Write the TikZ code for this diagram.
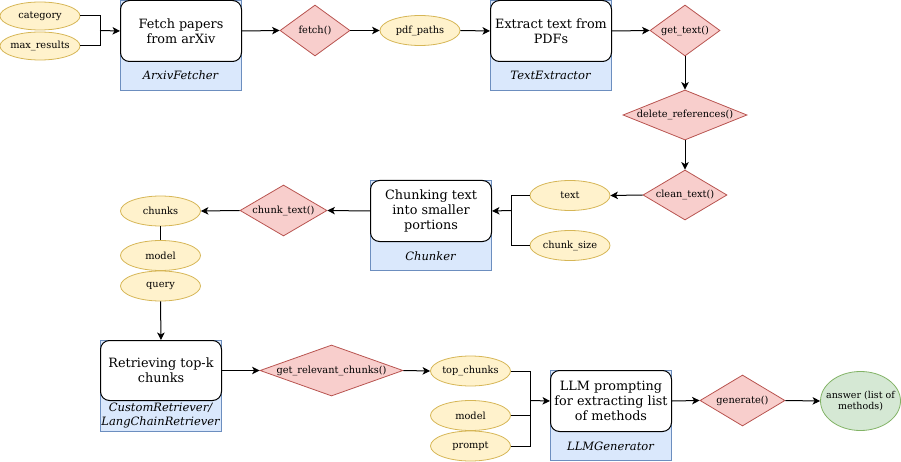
\documentclass[tikz,border=0pt]{standalone}
\usepackage{fontspec}
\setmainfont{DejaVu Serif}
\usetikzlibrary{shapes.geometric,arrows.meta}
\definecolor{yfill}{HTML}{FFF2CC}\definecolor{ydraw}{HTML}{D6B656}
\definecolor{rfill}{HTML}{F8CECC}\definecolor{rdraw}{HTML}{B85450}
\definecolor{bfill}{HTML}{DAE8FC}\definecolor{bdraw}{HTML}{6C8EBF}
\definecolor{gfill}{HTML}{D5E8D4}\definecolor{gdraw}{HTML}{82B366}
\tikzset{
  cont/.style={draw=bdraw, fill=bfill, line width=1pt, minimum width=121, minimum height=90, anchor=north west, inner sep=0},
  procbox/.style={draw=black, fill=white, line width=1pt, rounded corners=9, minimum width=121, minimum height=61, anchor=north west, inner sep=0, align=center, font=\fontsize{12.8}{15.2}\selectfont},
  cls/.style={font=\fontsize{11.5}{14}\selectfont\itshape, align=center, inner sep=0},
  param/.style={ellipse, draw=ydraw, fill=yfill, line width=0.8pt, minimum width=80, minimum height=30, inner sep=0, label={[font=\fontsize{9.8}{11}\selectfont, inner sep=0]center:#1}},
  method/.style={diamond, draw=rdraw, fill=rfill, line width=0.8pt, inner sep=0, label={[font=\fontsize{9.8}{11}\selectfont, inner sep=0]center:#1}},
  result/.style={ellipse, draw=gdraw, fill=gfill, line width=0.8pt, minimum width=80, minimum height=59, inner sep=0, label={[font=\fontsize{9.5}{11.5}\selectfont, inner sep=0, align=center]center:#1}},
  conn/.style={draw=black, line width=1pt},
  arr/.style={conn, -{Stealth[length=7.5pt,width=7.5pt,inset=2pt]}},
}
\begin{document}
\begin{tikzpicture}[x=1pt,y=-1pt]
\useasboundingbox (0,0) rectangle (901,462);
% ---------- top row
\node[param=category, minimum height=28] (cat) at (40,16) {};
\node[param=max\_results, minimum height=28] (maxr) at (40,46) {};
\node[cont] (fcont) at (120,0) {};
\node[procbox] (fbox) at (120,0) {Fetch papers\\from arXiv};
\node[cls] (fcls) at (180.5,75.5) {ArxivFetcher};
\coordinate (j1) at (100,30.5);
\draw[conn] (cat.east) -| (j1);
\draw[conn] (maxr.east) -| (j1);
\draw[arr] (j1) -- (fbox.west);
\node[method=fetch(), minimum width=70, minimum height=51] (fetch) at (315,30.5) {};
\draw[arr] (fbox.east) -- (fetch.west);
\node[param=pdf\_paths] (pdf) at (420,30.5) {};
\draw[arr] (fetch.east) -- (pdf.west);
\node[cont] (tcont) at (490,0) {};
\node[procbox] (tbox) at (490,0) {Extract text from\\PDFs};
\node[cls] (tcls) at (550.5,75.5) {TextExtractor};
\draw[arr] (pdf.east) -- (tbox.west);
\node[method=get\_text(), minimum width=70, minimum height=51] (gett) at (685,30.5) {};
\draw[arr] (tbox.east) -- (gett.west);
\node[method=delete\_references(), minimum width=124, minimum height=50] (delr) at (685,115) {};
\draw[arr] (gett.south) -- (delr.north);
\node[method=clean\_text(), minimum width=84, minimum height=50] (clean) at (685,195) {};
\draw[arr] (delr.south) -- (clean.north);
% ---------- middle row
\node[param=text] (txt) at (570,195.5) {};
\node[param=chunk\_size] (csize) at (570,245.5) {};
\draw[arr] (clean.west) -- (txt.east);
\node[cont] (ccont) at (370,180) {};
\node[procbox] (cbox) at (370,180) {Chunking text\\into smaller\\portions};
\node[cls] (ccls) at (430.5,256) {Chunker};
\coordinate (j2) at (511,210.5);
\draw[conn] (txt.west) -| (j2);
\draw[conn] (csize.west) -| (j2);
\draw[arr] (j2) -- (cbox.east);
\node[method=chunk\_text(), minimum width=87, minimum height=51] (ctext) at (283.5,210.5) {};
\draw[arr] (cbox.west) -- (ctext.east);
\node[param=chunks] (chunks) at (160.5,211) {};
\draw[arr] (ctext.west) -- (chunks.east);
\node[param=model] (model1) at (160.5,255.5) {};
\node[param=query] (query) at (160.5,286) {};
\draw[conn] (chunks.south) -- (model1.north);
% ---------- bottom row
\node[cont, minimum height=91] (rcont) at (100,340) {};
\node[procbox, minimum height=60] (rbox) at (100,340) {Retrieving top-k\\chunks};
\node[cls] (rcls) at (160.5,416) {CustomRetriever/\\LangChainRetriever};
\draw[arr] (query.south) -- (rcont.north);
\node[method=get\_relevant\_chunks(), minimum width=143, minimum height=51] (grel) at (331.5,370.5) {};
\draw[arr] (rbox.east) -- (grel.west);
\node[param=top\_chunks] (topc) at (470.5,371) {};
\draw[arr] (grel.east) -- (topc.west);
\node[param=model] (model2) at (470.5,415.5) {};
\node[param=prompt] (prompt) at (470.5,446) {};
\node[cont] (lcont) at (550,370) {};
\node[procbox] (lbox) at (550,370) {LLM prompting\\for extracting list\\of methods};
\node[cls] (lcls) at (610.5,446) {LLMGenerator};
\coordinate (j3) at (530.5,400.5);
\draw[conn] (topc.east) -| (j3);
\draw[conn] (model2.east) -| (j3);
\draw[conn] (prompt.east) -| (j3);
\draw[arr] (j3) -- (lbox.west);
\node[method=generate(), minimum width=85, minimum height=51] (gen) at (742.5,400.5) {};
\draw[arr] (lbox.east) -- (gen.west);
\node[result={answer (list of\\methods)}] (ans) at (860.5,401) {};
\draw[arr] (gen.east) -- (ans.west);
\end{tikzpicture}
\end{document}
